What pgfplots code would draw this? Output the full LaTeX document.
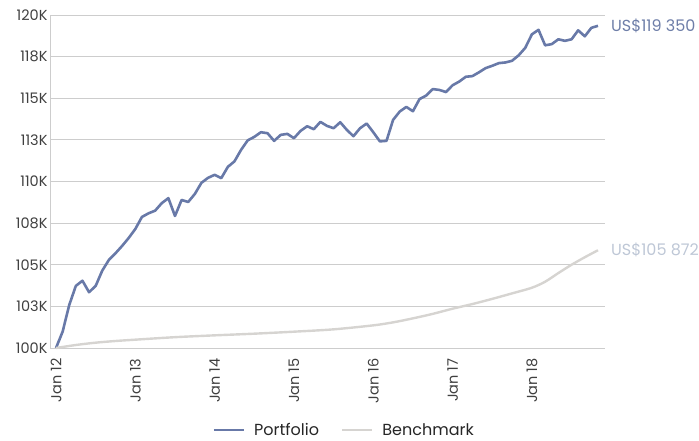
\documentclass[border=0pt]{standalone}
\usepackage{fontspec}
\setmainfont{Poppins}
\usepackage{pgfplots}
\pgfplotsset{compat=1.18}
\definecolor{port}{RGB}{104,121,168}
\definecolor{bench}{RGB}{214,212,209}
\definecolor{benchlab}{RGB}{190,199,214}
\definecolor{portlab}{RGB}{110,126,168}
\definecolor{gridc}{RGB}{205,205,205}
\definecolor{txt}{RGB}{64,64,64}
\begin{document}
\begin{tikzpicture}
\begin{axis}[
  scale only axis, width=555pt, height=333pt,
  xmin=-0.91, xmax=83.06, ymin=100, ymax=120,
  axis line style={draw=none}, tick style={draw=none},
  major tick length=0pt,
  ymajorgrids, grid style={gridc, line width=0.8pt},
  ytick={100,102.5,105,107.5,110,112.5,115,117.5,120},
  yticklabels={100K,103K,105K,108K,110K,113K,115K,118K,120K},
  xtick={0,12,24,36,48,60,72},
  xticklabels={Jan 12,Jan 13,Jan 14,Jan 15,Jan 16,Jan 17,Jan 18},
  x tick label style={rotate=90, anchor=east},
  xticklabel shift={7pt},
  yticklabel style={xshift=1pt},
  tick label style={font=\fontsize{14.5}{16}\selectfont, text=txt},
  clip=false,
  legend columns=2,
  legend style={at={(0.53,-0.246)}, anchor=center, draw=none,
    font=\fontsize{16}{18}\selectfont, text=black!85,
    /tikz/every odd column/.append style={column sep=7pt},
    /tikz/every even column/.append style={column sep=20pt}},
  legend image code/.code={\draw[#1] (0pt,0pt) -- (30pt,0pt);},
]
\coordinate (sw) at (rel axis cs:0,0);
\coordinate (ne) at (rel axis cs:1,1);
\draw[gridc, line width=0.8pt] (rel axis cs:0,0) -- (rel axis cs:0,1);
\addplot[port, line width=2.6pt, line join=round] coordinates {
(0,100.00) (1,100.98) (2,102.58) (3,103.73) (4,104.04) (5,103.35) (6,103.73) (7,104.65)
(8,105.29) (9,105.69) (10,106.13) (11,106.61) (12,107.15) (13,107.87) (14,108.09) (15,108.25)
(16,108.70) (17,109.00) (18,107.93) (19,108.89) (20,108.77) (21,109.25) (22,109.92) (23,110.22)
(24,110.40) (25,110.20) (26,110.88) (27,111.21) (28,111.90) (29,112.47) (30,112.68) (31,112.96)
(32,112.90) (33,112.44) (34,112.80) (35,112.86) (36,112.60) (37,113.04) (38,113.32) (39,113.14)
(40,113.58) (41,113.34) (42,113.20) (43,113.56) (44,113.10) (45,112.72) (46,113.20) (47,113.48)
(48,112.96) (49,112.41) (50,112.44) (51,113.70) (52,114.20) (53,114.48) (54,114.22) (55,114.95)
(56,115.16) (57,115.55) (58,115.50) (59,115.37) (60,115.78) (61,116.00) (62,116.29) (63,116.33)
(64,116.56) (65,116.81) (66,116.95) (67,117.11) (68,117.15) (69,117.25) (70,117.58) (71,118.03)
(72,118.84) (73,119.11) (74,118.18) (75,118.25) (76,118.54) (77,118.45) (78,118.54) (79,119.08)
(80,118.72) (81,119.23) (82,119.35)
};
\addlegendentry{Portfolio}
\addplot[bench, line width=2.4pt, smooth] coordinates {
(0,100.00) (3,100.18) (6,100.32) (9,100.42) (12,100.50) (18,100.65) (24,100.76) (30,100.86)
(36,100.98) (42,101.12) (48,101.36) (51,101.54) (54,101.78) (57,102.05) (60,102.36) (63,102.64)
(66,102.95) (69,103.28) (72,103.62) (74,103.98) (76,104.50) (78,105.00) (80,105.45) (82,105.872)
};
\addlegendentry{Benchmark}
\node[anchor=west, text=portlab, font=\fontsize{16}{18}\selectfont, inner sep=0pt] at (axis cs:82,119.35) [xshift=13pt] {US\$119 350};
\node[anchor=west, text=benchlab, font=\fontsize{16}{18}\selectfont, inner sep=0pt] at (axis cs:82,105.872) [xshift=13pt] {US\$105 872};
\end{axis}
\pgfresetboundingbox
\path[use as bounding box] ([xshift=-50pt,yshift=-93pt]sw) rectangle ([xshift=94pt,yshift=15pt]ne);
\end{tikzpicture}
\end{document}
